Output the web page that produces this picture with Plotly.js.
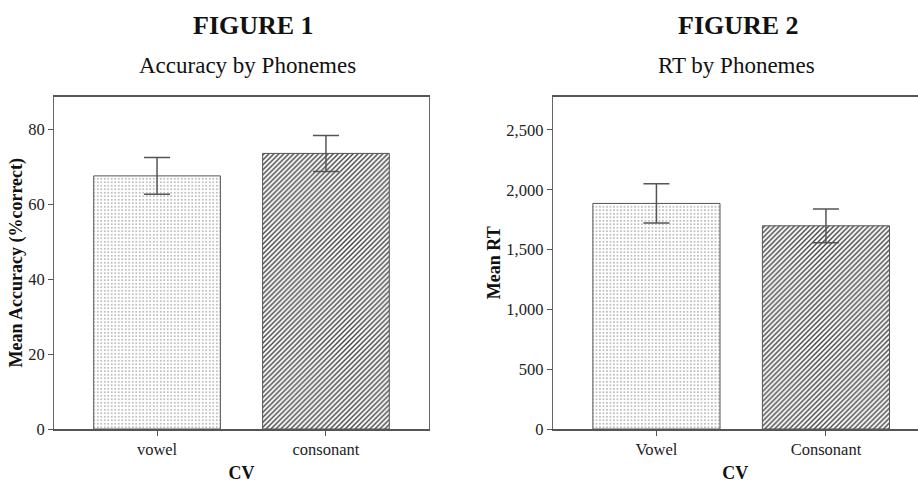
<!DOCTYPE html>
<html>
<head>
<meta charset="utf-8">
<script src="https://cdn.plot.ly/plotly-3.0.1.min.js"></script>
<style>html,body{margin:0;padding:0;background:#fff;}#chart{width:918px;height:483px;}</style>
</head>
<body>
<div id="chart"></div>
<script>
// Figure 1 data
const cats1 = ['vowel', 'consonant'];
const accuracy = [67.6, 73.6];
const accuracyErr = [4.9, 4.8];
const yTicks1 = [0, 20, 40, 60, 80];

// Figure 2 data
const cats2 = ['Vowel', 'Consonant'];
const meanRT = [1886, 1699];
const meanRTErr = [164, 141];
const yTicks2 = [0, 500, 1000, 1500, 2000, 2500];

const FONT = '"Liberation Serif", "Times New Roman", Times, serif';
const W = 918, H = 483;
const px = v => v / W;
const py = v => 1 - v / H;

const patterns = [
  {shape: '.', fgcolor: '#a8a8a8', bgcolor: '#ffffff', size: 3.5, solidity: 0.2, fillmode: 'replace'},
  {shape: '/', fgcolor: '#404040', bgcolor: '#ffffff', size: 3.5, solidity: 0.4, fillmode: 'replace'}
];

function barTrace(cats, vals, errs, i, xa, ya) {
  return {
    type: 'bar', x: [cats[i]], y: [vals[i]], xaxis: xa, yaxis: ya, width: 0.75,
    marker: {
      color: '#ffffff',
      line: {color: '#555555', width: 1},
      pattern: patterns[i]
    },
    error_y: {type: 'data', array: [errs[i]], visible: true, color: '#555555', thickness: 1.5, width: 13},
    hoverinfo: 'skip', showlegend: false
  };
}

const data = [
  barTrace(cats1, accuracy, accuracyErr, 0, 'x', 'y'),
  barTrace(cats1, accuracy, accuracyErr, 1, 'x', 'y'),
  barTrace(cats2, meanRT, meanRTErr, 0, 'x2', 'y2'),
  barTrace(cats2, meanRT, meanRTErr, 1, 'x2', 'y2')
];

const tickFont = {family: FONT, size: 16.5, color: '#222'};
const titleFont = {family: FONT, size: 18, color: '#111', weight: 'bold'};

const commonX = {
  type: 'category', showgrid: false, zeroline: false,
  showline: true, linecolor: '#555', linewidth: 1.5, mirror: true,
  ticks: 'outside', ticklen: 5, tickcolor: '#555', tickwidth: 1,
  tickfont: tickFont, fixedrange: true
};
const commonY = {
  showgrid: false, zeroline: false,
  showline: true, linecolor: '#666', linewidth: 1,
  ticks: 'outside', ticklen: 5, tickcolor: '#555', tickwidth: 1,
  tickfont: tickFont, fixedrange: true
};

const layout = {
  width: W, height: H,
  margin: {l: 0, r: 0, t: 0, b: 0},
  barmode: 'overlay',
  paper_bgcolor: '#ffffff', plot_bgcolor: '#ffffff',
  font: {family: FONT, color: '#222'},
  xaxis: Object.assign({}, commonX, {
    domain: [px(54), px(429)], range: [-0.61, 1.61], anchor: 'y',
    categoryorder: 'array', categoryarray: cats1,
    title: {text: 'CV', font: titleFont, standoff: 11}
  }),
  yaxis: Object.assign({}, commonY, {
    domain: [py(429), py(96.5)], range: [0, 88.8], anchor: 'x',
    tickvals: yTicks1, mirror: true,
    title: {text: 'Mean Accuracy (%correct)', font: titleFont, standoff: 0}
  }),
  xaxis2: Object.assign({}, commonX, {
    domain: [px(552.7), 1], range: [-0.612, 1.543], anchor: 'y2',
    categoryorder: 'array', categoryarray: cats2,
    title: {text: 'CV', font: titleFont, standoff: 11}
  }),
  yaxis2: Object.assign({}, commonY, {
    domain: [py(429), py(96.5)], range: [0, 2780], anchor: 'x2',
    tickvals: yTicks2, tickformat: ',d', mirror: false,
    title: {text: 'Mean RT', font: titleFont, standoff: 0}
  }),
  annotations: [
    {text: 'FIGURE 1', x: px(253.5), y: py(25), xref: 'paper', yref: 'paper', showarrow: false,
     font: {family: FONT, size: 26, color: '#111', weight: 'bold'}, xanchor: 'center', yanchor: 'middle'},
    {text: 'Accuracy by Phonemes', x: px(247.5), y: py(65), xref: 'paper', yref: 'paper', showarrow: false,
     font: {family: FONT, size: 23, color: '#111'}, xanchor: 'center', yanchor: 'middle'},
    {text: 'FIGURE 2', x: px(738.5), y: py(25), xref: 'paper', yref: 'paper', showarrow: false,
     font: {family: FONT, size: 26, color: '#111', weight: 'bold'}, xanchor: 'center', yanchor: 'middle'},
    {text: 'RT by Phonemes', x: px(736), y: py(65), xref: 'paper', yref: 'paper', showarrow: false,
     font: {family: FONT, size: 23, color: '#111'}, xanchor: 'center', yanchor: 'middle'}
  ]
};

Plotly.newPlot('chart', data, layout, {displayModeBar: false, staticPlot: true});
</script>
</body>
</html>
